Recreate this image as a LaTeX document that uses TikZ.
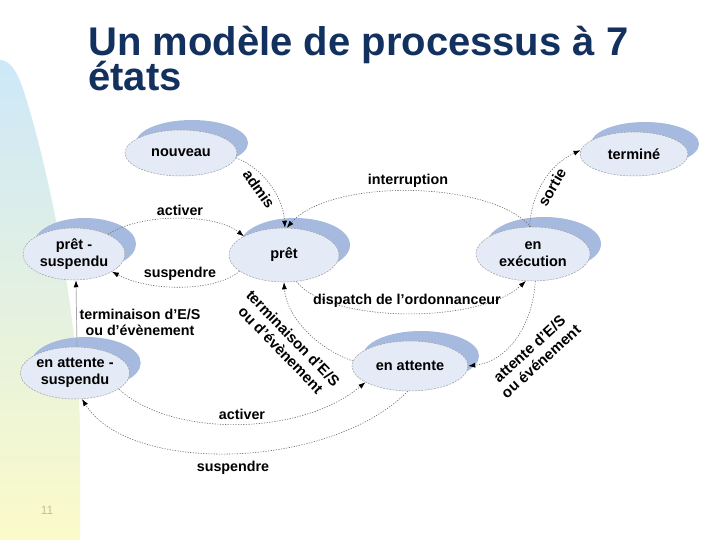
\documentclass[tikz,border=0pt]{standalone}
\usepackage{fontspec}
\setmainfont{Liberation Sans}
\usetikzlibrary{arrows.meta,shapes.geometric,shadows}
\definecolor{titlec}{HTML}{13315F}
\definecolor{nodefill}{HTML}{E4EAF6}
\definecolor{shadowc}{HTML}{A6BADF}
\definecolor{linec}{HTML}{6E6E6E}
\definecolor{bgtop}{HTML}{CDE8F9}
\definecolor{bgmid}{HTML}{E6F3DF}
\definecolor{bgbot}{HTML}{FBFAC9}
\definecolor{pagec}{HTML}{C9BE95}
\begin{document}
\begin{tikzpicture}[x=1pt,y=-1pt,
  state/.style={ellipse, fill=nodefill, draw=gray!75, dash pattern=on 2pt off 1.2pt,
    line width=0.5pt, inner sep=0pt, align=center,
    font=\fontsize{14.5}{17}\selectfont\bfseries,
    general shadow={fill=shadowc, shadow xshift=11pt, shadow yshift=10pt}},
  conn/.style={draw=linec, line width=0.6pt, dash pattern=on 1.2pt off 1.4pt,
    -{Latex[length=7pt,width=5pt,color=black]}},
  lbl/.style={font=\fontsize{14.3}{15}\selectfont\bfseries, align=center, inner sep=0pt},
  rlbl/.style={font=\fontsize{15}{17}\selectfont\bfseries, align=center, inner sep=0pt},
  titletext/.style={anchor=base west, text=titlec, font=\fontsize{40}{40}\selectfont\bfseries, inner sep=0pt},
]
\useasboundingbox (0,0) rectangle (720,540);
\fill[white] (0,0) rectangle (720,540);
% left decorative band
\shade[top color=bgtop, middle color=bgmid, bottom color=bgbot]
  (0,540) -- (0,60) .. controls (10,60) and (18,72) .. (25,95)
  .. controls (50,175) and (80,320) .. (80,440) -- (80,540) -- cycle;

% title
\node[titletext] (t1) at (88,56) {Un modèle de processus à 7};
\node[titletext] (t2) at (88,91) {états};

% states
\node[state, minimum width=112pt, minimum height=46pt] (nouveau) at (181,153) {nouveau};
\node[state, minimum width=108pt, minimum height=44pt] (term) at (634,154) {terminé};
\node[state, minimum width=102pt, minimum height=52pt] (ps) at (74,254) {prêt -\\suspendu};
\node[state, minimum width=110pt, minimum height=54pt] (pret) at (284,255) {prêt};
\node[state, minimum width=114pt, minimum height=54pt] (exec) at (533,254) {en\\exécution};
\node[state, minimum width=106pt, minimum height=52pt] (eas) at (75,373) {en attente -\\suspendu};
\node[state, minimum width=116pt, minimum height=50pt] (ea) at (410,366) {en attente};

% connectors
\draw[conn] (nouveau.-5) .. controls (262,168) and (283,195) .. (pret.88);
\draw[conn] (exec.95) .. controls (490,180) and (330,178) .. (pret.84);
\draw[conn] (exec.97) .. controls (531,195) and (548,165) .. (term.176);
\draw[conn] (ps.30) .. controls (140,213) and (215,213) .. (pret.155);
\draw[conn] (pret.200) .. controls (215,292) and (150,292) .. (ps.-25);
\draw[draw=gray!70, line width=0.7pt, -{Latex[length=7pt,width=5pt,color=black]}]
  ([xshift=2pt]eas.north) -- ([xshift=2pt]ps.south);
\draw[conn] (pret.-65) .. controls (330,324) and (480,324) .. (exec.-105);
\draw[conn] (ea.175) .. controls (315,348) and (286,315) .. (pret.-90);
\draw[conn] (exec.-85) .. controls (532,330) and (505,362) .. (ea.0);
\draw[conn] (eas.-20) .. controls (170,437) and (300,437) .. (ea.200);
\draw[conn] (ea.-95) .. controls (330,470) and (130,475) .. (eas.-75);

% labels
\node[rlbl, rotate=-55] (l1) at (259,189) {admis};
\node[lbl] (l2) at (408,181) {interruption};
\node[rlbl, rotate=60] (l3) at (552,187) {sortie};
\node[lbl] (l4) at (180,210) {activer};
\node[lbl] (l5) at (180,274) {suspendre};
\node[lbl, font=\fontsize{14.3}{16}\selectfont\bfseries] (l6) at (140,322) {terminaison d’E/S\\ou d’évènement};
\node[lbl] (l7) at (407,301) {dispatch de l’ordonnanceur};
\node[rlbl, rotate=-46] (l8) at (287,344) {terminaison d’E/S\\ou d’évènement};
\node[rlbl, rotate=42] (l9) at (535,355) {attente d’E/S\\ou événement};
\node[lbl] (l10) at (242,414) {activer};
\node[lbl] (l11) at (233,468) {suspendre};
\node[text=pagec, font=\fontsize{12}{12}\selectfont, inner sep=0pt] (pg) at (47,510) {11};
\end{tikzpicture}
\end{document}
